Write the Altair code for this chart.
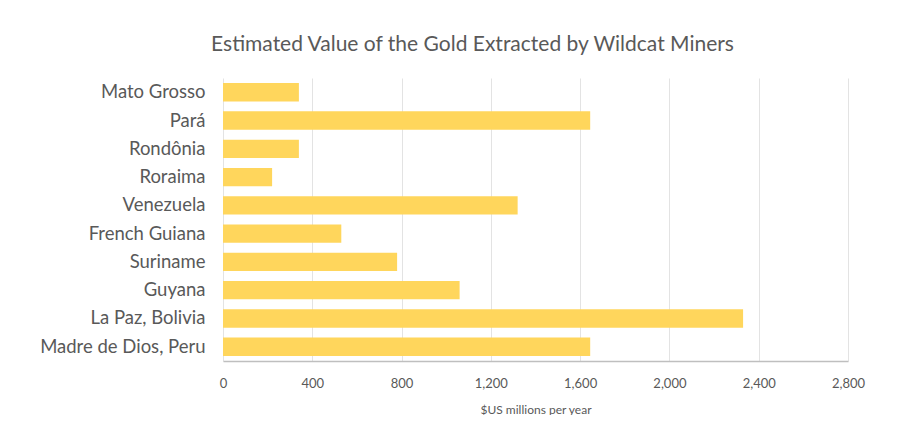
import altair as alt
import pandas as pd

regions = ["Mato Grosso", "Pará", "Rondônia", "Roraima", "Venezuela",
           "French Guiana", "Suriname", "Guyana", "La Paz, Bolivia", "Madre de Dios, Peru"]
values = [340, 1645, 340, 220, 1320, 530, 780, 1060, 2330, 1645]
x_ticks = [0, 400, 800, 1200, 1600, 2000, 2400, 2800]

df = pd.DataFrame({"region": regions, "value": values})

FONT = "Lato"
GRAY = "#595959"

chart = alt.Chart(df).mark_bar(color="#FFD65C").encode(
    x=alt.X("value:Q",
            scale=alt.Scale(domain=[0, 2800], nice=False),
            axis=alt.Axis(values=x_ticks, format=",d", title="$US millions per year",
                          grid=True, gridColor="#e3e3e3", gridWidth=1,
                          domainColor="#bfbfbf", domainWidth=1.5,
                          ticks=False, labelPadding=16, labelFontSize=13,
                          labelFlush=False,
                          labelColor=GRAY, labelFont=FONT,
                          titleFont=FONT, titleFontSize=12, titleColor=GRAY,
                          titleFontWeight="normal", titlePadding=14)),
    y=alt.Y("region:N", sort=regions,
            scale=alt.Scale(paddingInner=0.35, paddingOuter=0.18),
            axis=alt.Axis(title=None, domain=False, ticks=False, labelPadding=18,
                          labelFontSize=18.5, labelColor=GRAY, labelFont=FONT,
                          minExtent=210, maxExtent=210)),
).properties(
    width=625,
    height=283,
    title=alt.TitleParams("Estimated Value of the Gold Extracted by Wildcat Miners",
                          font=FONT, fontSize=21, fontWeight="normal", color=GRAY,
                          anchor="middle", dx=-63, offset=23),
    padding={"left": 5, "top": 26, "right": 30, "bottom": 0},
).configure_view(stroke=None)

chart.save("out.html", embed_options={"renderer": "svg", "actions": False})
